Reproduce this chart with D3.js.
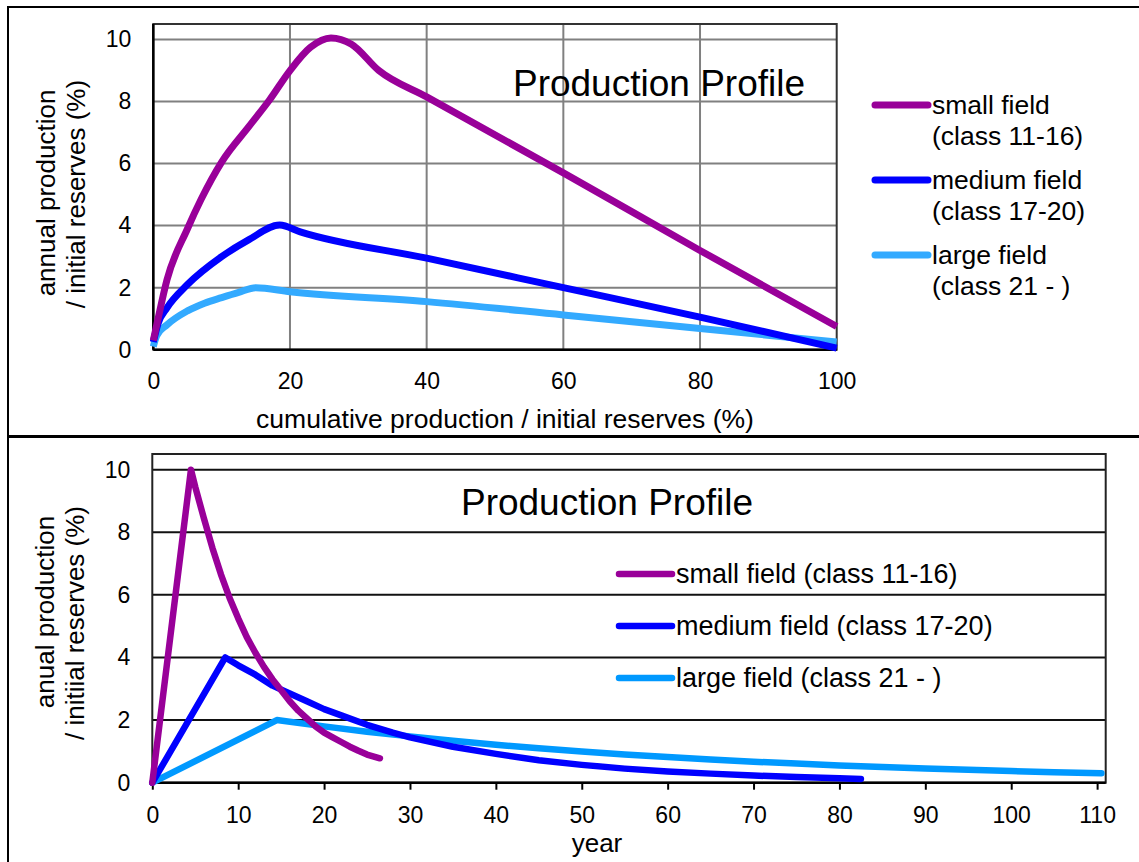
<!DOCTYPE html>
<html>
<head>
<meta charset="utf-8">
<script src="https://cdn.jsdelivr.net/npm/d3@7"></script>
<style>
  html, body { margin: 0; padding: 0; background: #fff; }
  svg { display: block; font-family: "Liberation Sans", Arial, sans-serif; }
</style>
</head>
<body>
<svg id="chart" width="1139" height="862"></svg>
<script>
// ---- Series: annual production vs cumulative production (upper panel) ----
const cumSmall = [[0,0.3],[0.5,0.8],[2,2.25],[5,3.9],[7,4.85],[10,6.05],[14,7.2],[17,8.05],[20,9.0],[23,9.75],[26,10.05],[29,9.85],[33,9.0],[40,8.15],[60,5.7],[80,3.2],[100,0.75]];
const cumMedium = [[0,0.25],[0.7,0.85],[2,1.35],[5,2.1],[10,3.0],[14,3.55],[18.5,4.02],[21.5,3.8],[40,2.95],[60,2.0],[80,1.05],[100,0.05]];
const cumLarge = [[0,0.1],[0.5,0.45],[2,0.8],[5,1.25],[7.5,1.5],[10,1.68],[12.5,1.85],[15,2.0],[20,1.87],[40,1.55],[60,1.12],[80,0.68],[100,0.25]];

// ---- Series: annual production vs year (lower panel) ----
const yearSmall = [[0,0],[4.5,10],[5,9.45],[6,8.45],[7,7.5],[8,6.65],[9,5.9],[10,5.25],[11,4.65],[12,4.15],[13,3.7],[14,3.3],[15,2.95],[16,2.6],[17,2.3],[18,2.05],[19,1.8],[20,1.6],[21,1.45],[22,1.3],[23,1.15],[24,1.02],[25,0.9],[26.5,0.78]];
const yearMedium = [[0,0],[8.5,4],[10,3.75],[12,3.45],[14,3.1],[16,2.85],[18,2.6],[20,2.35],[22,2.15],[25,1.85],[28,1.6],[30,1.45],[35,1.15],[40,0.92],[45,0.72],[50,0.57],[55,0.45],[60,0.36],[65,0.29],[70,0.23],[75,0.18],[80,0.14],[82.5,0.12]];
const yearLarge = [[0,0],[14.5,2.0],[20,1.8],[25,1.63],[30,1.48],[35,1.34],[40,1.21],[45,1.1],[50,1.0],[55,0.9],[60,0.82],[65,0.74],[70,0.67],[75,0.61],[80,0.55],[85,0.5],[90,0.45],[95,0.41],[100,0.37],[105,0.33],[110.5,0.3]];

// ---- Ticks and labels ----
const yTicks = [0, 2, 4, 6, 8, 10];
const cumTicks = [0, 20, 40, 60, 80, 100];
const yearTicks = [0, 10, 20, 30, 40, 50, 60, 70, 80, 90, 100, 110];
const topLegend = [["small field", "(class 11-16)"], ["medium field", "(class 17-20)"], ["large field", "(class 21 - )"]];
const bottomLegend = ["small field (class 11-16)", "medium field (class 17-20)", "large field (class 21 - )"];
const topColors = ["#990099", "#0000ff", "#33aaff"];
const bottomColors = ["#990099", "#0000ff", "#0099ff"];

const FONT = "Liberation Sans, Arial, sans-serif";
const svg = d3.select("#chart");

// panel frames
svg.append("path").attr("d", "M1139,7 H8 V436 H1139").attr("fill", "none").attr("stroke", "#000").attr("stroke-width", 2);
svg.append("path").attr("d", "M1139,437 H8 V862").attr("fill", "none").attr("stroke", "#000").attr("stroke-width", 2);

// ================= Upper panel =================
const xT = d3.scaleLinear().domain([0, 100]).range([153.3, 836.7]);
const yT = d3.scaleLinear().domain([0, 10.5]).range([349.7, 24]);
const gT = svg.append("g");

gT.append("g").selectAll("line").data(yTicks.filter(d => d > 0)).join("line")
  .attr("x1", xT(0)).attr("x2", xT(100)).attr("y1", d => yT(d)).attr("y2", d => yT(d))
  .attr("stroke", "#808080").attr("stroke-width", 2);
gT.append("g").selectAll("line").data(cumTicks.filter(d => d > 0 && d < 100)).join("line")
  .attr("x1", d => xT(d)).attr("x2", d => xT(d)).attr("y1", yT(10.5)).attr("y2", yT(0))
  .attr("stroke", "#808080").attr("stroke-width", 2);
gT.append("rect").attr("x", xT(0)).attr("y", yT(10.5)).attr("width", xT(100) - xT(0)).attr("height", yT(0) - yT(10.5))
  .attr("fill", "none").attr("stroke", "#333").attr("stroke-width", 2);
gT.append("line").attr("x1", xT(0)).attr("x2", xT(100)).attr("y1", yT(0)).attr("y2", yT(0)).attr("stroke", "#000").attr("stroke-width", 2.5);
gT.append("line").attr("x1", xT(0)).attr("x2", xT(0)).attr("y1", yT(0)).attr("y2", yT(10.5)).attr("stroke", "#000").attr("stroke-width", 2.5);

const axisYT = d3.axisLeft(yT).tickValues(yTicks).tickSize(0).tickPadding(22);
gT.append("g").attr("transform", `translate(${xT(0)},0)`).call(axisYT)
  .call(g => g.select(".domain").remove())
  .selectAll("text").attr("font-size", 23).attr("fill", "#000").attr("font-family", FONT);
const axisXT = d3.axisBottom(xT).tickValues(cumTicks).tickSize(0).tickPadding(23);
gT.append("g").attr("transform", `translate(0,${yT(0)})`).call(axisXT)
  .call(g => g.select(".domain").remove())
  .selectAll("text").attr("font-size", 23).attr("fill", "#000").attr("font-family", FONT);

gT.append("text").attr("x", 505).attr("y", 428).attr("text-anchor", "middle").attr("font-size", 26.5)
  .text("cumulative production / initial reserves (%)");
gT.append("text").attr("transform", "translate(55,193) rotate(-90)").attr("text-anchor", "middle").attr("font-size", 26)
  .text("annual production");
gT.append("text").attr("transform", "translate(85,194) rotate(-90)").attr("text-anchor", "middle").attr("font-size", 26)
  .text("/ initial reserves (%)");
gT.append("text").attr("x", 659).attr("y", 96).attr("text-anchor", "middle").attr("font-size", 37).text("Production Profile");

const lineT = d3.line().x(d => xT(d[0])).y(d => yT(d[1])).curve(d3.curveMonotoneX);
[cumLarge, cumMedium, cumSmall].forEach((s, i) => {
  gT.append("path").datum(s).attr("d", lineT).attr("fill", "none")
    .attr("stroke", topColors[2 - i]).attr("stroke-width", 7).attr("stroke-linejoin", "round").attr("stroke-linecap", "butt");
});

const legT = gT.append("g");
topLegend.forEach((lab, i) => {
  const y0 = 105 + i * 75;
  legT.append("line").attr("x1", 875).attr("x2", 928).attr("y1", y0).attr("y2", y0)
    .attr("stroke", topColors[i]).attr("stroke-width", 7).attr("stroke-linecap", "round");
  legT.append("text").attr("x", 932).attr("y", y0 + 9).attr("font-size", 26.5).text(lab[0]);
  legT.append("text").attr("x", 932).attr("y", y0 + 40).attr("font-size", 26.5).text(lab[1]);
});

// ================= Lower panel =================
const xB = d3.scaleLinear().domain([0, 111]).range([152.3, 1105.7]);
const yB = d3.scaleLinear().domain([0, 10.5]).range([782.7, 454]);
const gB = svg.append("g");

gB.append("g").selectAll("line").data(yTicks.filter(d => d > 0)).join("line")
  .attr("x1", xB(0)).attr("x2", xB(111)).attr("y1", d => yB(d)).attr("y2", d => yB(d))
  .attr("stroke", "#111").attr("stroke-width", 2);
gB.append("rect").attr("x", xB(0)).attr("y", yB(10.5)).attr("width", xB(111) - xB(0)).attr("height", yB(0) - yB(10.5))
  .attr("fill", "none").attr("stroke", "#222").attr("stroke-width", 2);
gB.append("line").attr("x1", xB(0)).attr("x2", xB(111)).attr("y1", yB(0)).attr("y2", yB(0)).attr("stroke", "#000").attr("stroke-width", 2.5);

const axisYB = d3.axisLeft(yB).tickValues(yTicks).tickSize(0).tickPadding(22);
gB.append("g").attr("transform", `translate(${xB(0)},0)`).call(axisYB)
  .call(g => g.select(".domain").remove())
  .selectAll("text").attr("font-size", 23).attr("fill", "#000").attr("font-family", FONT);
const axisXB = d3.axisBottom(xB).tickValues(yearTicks).tickSize(7).tickPadding(17);
gB.append("g").attr("transform", `translate(0,${yB(0)})`).call(axisXB)
  .call(g => g.select(".domain").remove())
  .call(g => g.selectAll("line").attr("stroke", "#000").attr("stroke-width", 2))
  .selectAll("text").attr("font-size", 23).attr("fill", "#000").attr("font-family", FONT);

gB.append("text").attr("x", 597).attr("y", 852).attr("text-anchor", "middle").attr("font-size", 26).text("year");
gB.append("text").attr("transform", "translate(54,612) rotate(-90)").attr("text-anchor", "middle").attr("font-size", 26)
  .text("anual production");
gB.append("text").attr("transform", "translate(84,623) rotate(-90)").attr("text-anchor", "middle").attr("font-size", 26)
  .text("/ initiial reserves (%)");
gB.append("text").attr("x", 607).attr("y", 515).attr("text-anchor", "middle").attr("font-size", 37).text("Production Profile");

const lineB = d3.line().x(d => xB(d[0])).y(d => yB(d[1])).curve(d3.curveLinear);
[yearLarge, yearMedium, yearSmall].forEach((s, i) => {
  gB.append("path").datum(s).attr("d", lineB).attr("fill", "none")
    .attr("stroke", bottomColors[2 - i]).attr("stroke-width", 6.5).attr("stroke-linejoin", "round").attr("stroke-linecap", "round");
});

const legB = gB.append("g");
bottomLegend.forEach((lab, i) => {
  const y0 = 574 + i * 52;
  legB.append("line").attr("x1", 619).attr("x2", 672).attr("y1", y0).attr("y2", y0)
    .attr("stroke", bottomColors[i]).attr("stroke-width", 6.5).attr("stroke-linecap", "round");
  legB.append("text").attr("x", 676).attr("y", y0 + 9).attr("font-size", 27).text(lab);
});
</script>
</body>
</html>
